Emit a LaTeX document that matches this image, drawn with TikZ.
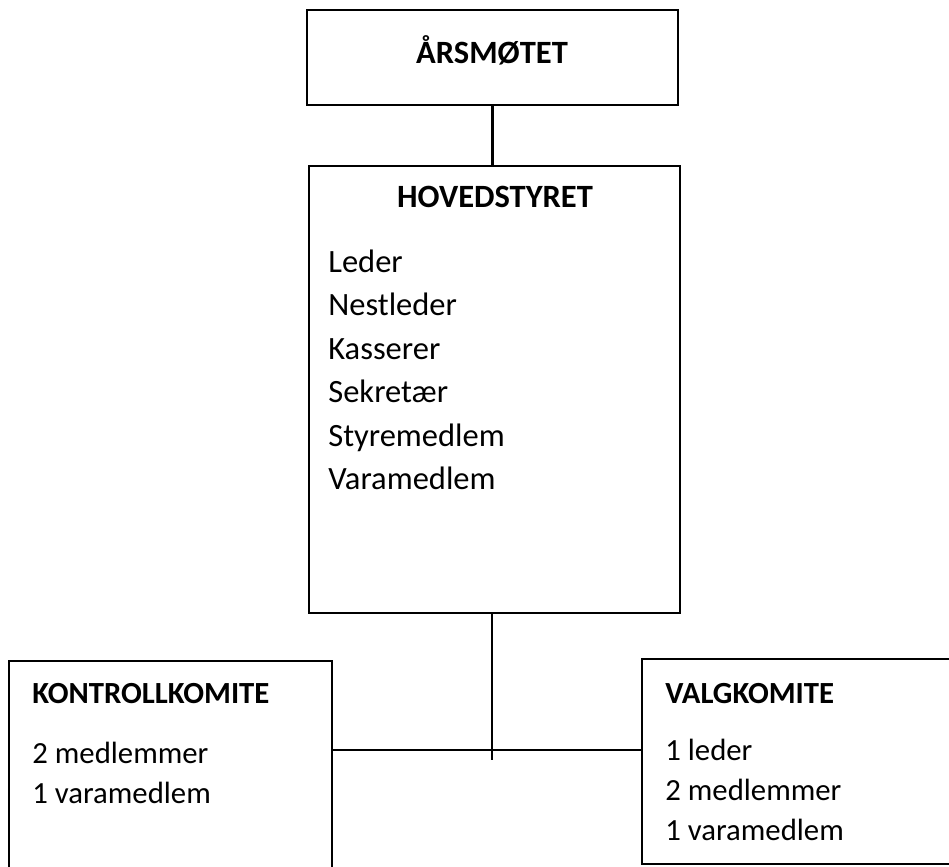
\documentclass[tikz,border=0pt]{standalone}
\usepackage{fontspec}
\setmainfont{Carlito}
\usetikzlibrary{fit}

\begin{document}
\begin{tikzpicture}[x=0.02cm,y=-0.02cm,
  boks/.style={draw,line width=1.5pt,inner sep=0pt},
  tittel/.style={font=\bfseries\fontsize{18.5}{22}\selectfont,inner sep=0pt},
  undertittel/.style={font=\bfseries\fontsize{17.5}{21}\selectfont,inner sep=0pt,anchor=base west},
  linje/.style={font=\fontsize{18.5}{22}\selectfont,anchor=base west,inner sep=0pt},
  smaa/.style={font=\fontsize{17.5}{21}\selectfont},
  forbindelse/.style={line width=1.4pt}]
  \useasboundingbox (0,0) rectangle (949,866);

  % boksene
  \node[boks,fit={(307,10) (678,105)}] (aarsmote) {};
  \node[boks,fit={(309,166) (680,613)}] (hovedstyret) {};
  \node[boks,fit={(9,661) (332,880)}] (kontroll) {};
  \node[boks,fit={(642,659) (960,864)}] (valg) {};

  % overskrifter
  \node[tittel,anchor=base] (aarsmote-t) at (492,63) {ÅRSMØTET};
  \node[tittel,anchor=base] (hovedstyret-t) at (495,207) {HOVEDSTYRET};
  \node[undertittel] (kontroll-t) at (32,703) {KONTROLLKOMITE};
  \node[undertittel] (valg-t) at (665,703) {VALGKOMITE};

  % medlemmer
  \foreach \tekst [count=\i] in {Leder,Nestleder,Kasserer,Sekretær,Styremedlem,Varamedlem}
    \node[linje] (hs-\i) at (328,{228.5+43.5*\i}) {\tekst};
  \node[linje,smaa] (kk-1) at (32,763) {2 medlemmer};
  \node[linje,smaa] (kk-2) at (32,803) {1 varamedlem};
  \foreach \tekst [count=\i] in {1 leder,2 medlemmer,1 varamedlem}
    \node[linje,smaa] (vk-\i) at (665,{720+40*\i}) {\tekst};

  % linjer
  \coordinate (stopp) at (492,760);
  \coordinate (kryss) at (492,750);
  \draw[forbindelse] (aarsmote.south) -- (aarsmote.south |- hovedstyret.north);
  \draw[forbindelse] (hovedstyret.south -| stopp) -- (stopp);
  \draw[forbindelse] (kontroll.east |- kryss) -- (valg.west |- kryss);
\end{tikzpicture}
\end{document}
